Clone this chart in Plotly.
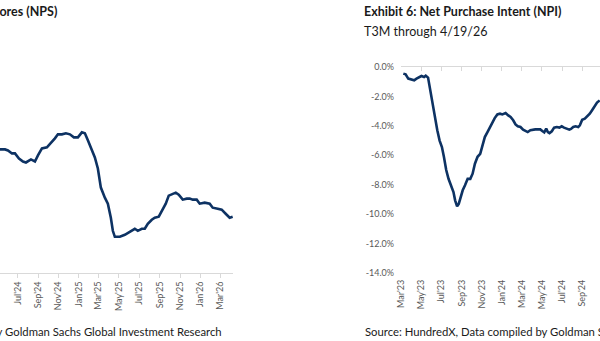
import plotly.graph_objects as go

# ---------------- Data ----------------
# Left chart (Net Promoter Score, axis labels cut off in the reference)
nps_dates = [
    "2024-05-09", "2024-05-24", "2024-06-02", "2024-06-14", "2024-06-23", "2024-07-05",
    "2024-07-17", "2024-07-26", "2024-08-10", "2024-08-22", "2024-08-31", "2024-09-12",
    "2024-09-27", "2024-10-09", "2024-10-21", "2024-10-30", "2024-11-11", "2024-11-23",
    "2024-12-05", "2024-12-17", "2024-12-29", "2025-01-10", "2025-01-19", "2025-01-28",
    "2025-02-09", "2025-02-18", "2025-02-27", "2025-03-08", "2025-03-20", "2025-03-29",
    "2025-04-07", "2025-04-13", "2025-04-19", "2025-05-04", "2025-05-19", "2025-05-28",
    "2025-06-09", "2025-06-18", "2025-06-27", "2025-07-09", "2025-07-18", "2025-07-27",
    "2025-08-08", "2025-08-17", "2025-08-29", "2025-09-07", "2025-09-19", "2025-09-28",
    "2025-10-07", "2025-10-19", "2025-10-28", "2025-11-09", "2025-11-21", "2025-11-30",
    "2025-12-09", "2025-12-21", "2025-12-30", "2026-01-14", "2026-01-29", "2026-02-07",
    "2026-02-22", "2026-03-06", "2026-03-18", "2026-03-30", "2026-04-08",
]
nps_values = [
    32.4, 32.4, 32.3, 32.0, 32.0, 31.5,
    31.2, 31.1, 31.4, 31.2, 31.8, 32.5,
    32.6, 33.0, 33.5, 33.9, 33.9, 34.0,
    33.9, 33.6, 33.6, 34.1, 34.0, 33.3,
    32.3, 31.6, 30.5, 28.6, 27.6, 27.0,
    25.6, 24.3, 23.7, 23.7, 23.9, 24.1,
    24.3, 24.5, 24.3, 24.5, 24.5, 25.0,
    25.4, 25.6, 25.7, 26.3, 27.0, 27.8,
    27.9, 28.1, 27.9, 27.4, 27.5, 27.5,
    27.4, 27.4, 27.0, 27.1, 27.0, 26.6,
    26.5, 26.4, 26.0, 25.6, 25.7,
]

# Right chart: Net Purchase Intent (%), T3M
npi_dates = [
    "2023-03-08", "2023-03-15", "2023-03-23", "2023-04-02", "2023-04-10", "2023-04-17",
    "2023-04-24", "2023-05-02", "2023-05-10", "2023-05-15", "2023-05-22", "2023-05-27",
    "2023-06-01", "2023-06-06", "2023-06-11", "2023-06-19", "2023-06-26", "2023-07-03",
    "2023-07-09", "2023-07-16", "2023-07-23", "2023-07-31", "2023-08-07", "2023-08-12",
    "2023-08-18", "2023-08-23", "2023-08-28", "2023-09-04", "2023-09-11", "2023-09-19",
    "2023-09-27", "2023-10-04", "2023-10-11", "2023-10-19", "2023-10-27", "2023-11-03",
    "2023-11-10", "2023-11-18", "2023-11-26", "2023-12-03", "2023-12-10", "2023-12-18",
    "2023-12-26", "2024-01-02", "2024-01-12", "2024-01-20", "2024-01-27", "2024-02-04",
    "2024-02-11", "2024-02-18", "2024-02-26", "2024-03-05", "2024-03-12", "2024-03-19",
    "2024-03-27", "2024-04-03", "2024-04-11", "2024-04-18", "2024-04-26", "2024-05-03",
    "2024-05-08", "2024-05-14", "2024-05-19", "2024-05-24", "2024-05-31", "2024-06-07",
    "2024-06-15", "2024-06-23", "2024-06-30", "2024-07-07", "2024-07-15", "2024-07-23",
    "2024-07-28", "2024-08-04", "2024-08-11", "2024-08-19", "2024-08-24", "2024-08-31",
    "2024-09-08", "2024-09-15", "2024-09-23", "2024-10-01", "2024-10-08", "2024-10-15",
    "2024-10-23",
]
npi_values = [
    -0.45, -0.50, -0.79, -0.84, -0.90, -0.79,
    -0.68, -0.61, -0.68, -0.59, -0.72, -1.36,
    -2.04, -2.60, -3.40, -4.30, -5.00, -5.44,
    -6.10, -7.00, -7.60, -8.04, -8.50, -9.06,
    -9.47, -9.30, -8.84, -8.38, -8.04, -7.60,
    -7.60, -7.25, -6.57, -6.10, -5.90, -5.32,
    -4.76, -4.42, -4.08, -3.74, -3.47, -3.22,
    -3.17, -3.22, -3.13, -3.29, -3.40, -3.62,
    -3.90, -4.03, -4.08, -4.26, -4.37, -4.42,
    -4.30, -4.26, -4.24, -4.24, -4.24, -4.37,
    -4.44, -4.19, -4.42, -4.49, -4.37, -4.12,
    -4.08, -4.12, -4.03, -4.12, -4.19, -4.26,
    -4.21, -4.08, -4.03, -4.08, -3.96, -3.58,
    -3.51, -3.35, -3.17, -2.90, -2.67, -2.42,
    -2.27,
]

npi_tickvals = [0, -2, -4, -6, -8, -10, -12, -14]
npi_ticktext = ["0.0%", "-2.0%", "-4.0%", "-6.0%", "-8.0%", "-10.0%", "-12.0%", "-14.0%"]

left_title = "Exhibit 5: Net Promoter Scores (NPS)"
right_title = "Exhibit 6: Net Purchase Intent (NPI)"
right_subtitle = "T3M through 4/19/26"
left_source = "Source: HundredX, Data compiled by Goldman Sachs Global Investment Research"
right_source = "Source: HundredX, Data compiled by Goldman Sachs Global Investment Research"

# ---------------- Figure ----------------
W, H = 600, 341
LINE = "#0d3263"
AXIS = "#d9d9d9"
FONT = "Lato, sans-serif"
TICKFONT = dict(family=FONT, size=9, color="#595959")

def px_x(p):
    return p / W

def px_y(p):
    return 1 - p / H

fig = go.Figure()
fig.add_trace(go.Scatter(x=nps_dates, y=nps_values, mode="lines",
                         line=dict(color=LINE, width=2.6), xaxis="x", yaxis="y",
                         showlegend=False, hoverinfo="skip"))
fig.add_trace(go.Scatter(x=npi_dates, y=npi_values, mode="lines",
                         line=dict(color=LINE, width=2.6), xaxis="x2", yaxis="y2",
                         showlegend=False, hoverinfo="skip"))
# invisible trace to carry the top (zero-line) axis of the right chart
fig.add_trace(go.Scatter(x=npi_dates, y=npi_values, mode="lines",
                         line=dict(color="rgba(0,0,0,0)", width=0), xaxis="x3", yaxis="y2",
                         showlegend=False, hoverinfo="skip"))

ydom = [px_y(273), px_y(67)]

fig.update_layout(
    width=W, height=H,
    margin=dict(l=0, r=0, t=0, b=0, autoexpand=False),
    paper_bgcolor="white", plot_bgcolor="white",
    font=dict(family=FONT),
    xaxis=dict(domain=[0, px_x(233)], range=["2024-05-09", "2026-04-09"],
               type="date", tick0="2024-01-01", dtick="M2", tickformat="%b'%y",
               tickangle=-90, tickfont=TICKFONT, showline=True, linecolor=AXIS,
               linewidth=1, ticks="outside", ticklen=4, tickcolor=AXIS,
               showgrid=False, zeroline=False, anchor="y", fixedrange=True,
               automargin=False),
    yaxis=dict(domain=ydom, range=[20.1, 40.6], visible=False, anchor="x",
               fixedrange=True, automargin=False),
    xaxis2=dict(domain=[px_x(401), 1], range=["2023-03-01", "2024-10-24"],
                type="date", tick0="2023-03-01", dtick="M2", tickformat="%b'%y",
                tickangle=-90, tickfont=TICKFONT, showline=False, ticks="",
                showgrid=False, zeroline=False, anchor="y2", fixedrange=True,
                automargin=False, ticklabelstandoff=4),
    xaxis3=dict(domain=[px_x(401), 1], range=["2023-03-01", "2024-10-24"],
                type="date", tick0="2023-03-01", dtick="M2", side="top",
                overlaying="x2", showticklabels=False, showline=True,
                linecolor=AXIS, linewidth=1, ticks="inside", ticklen=4,
                tickcolor=AXIS, showgrid=False, zeroline=False, anchor="y2",
                fixedrange=True, automargin=False),
    yaxis2=dict(domain=ydom, range=[-14, 0], tickvals=npi_tickvals,
                ticktext=npi_ticktext, tickfont=TICKFONT, showline=False,
                ticks="", showgrid=False, zeroline=False, anchor="x2",
                ticklabelstandoff=6, fixedrange=True, automargin=False),
)

ann = []
ann.append(dict(text="<b>" + left_title + "</b>", x=px_x(59), y=px_y(12),
                xanchor="right", yanchor="middle", font_size=12.5))
ann.append(dict(text="<b>" + right_title + "</b>", x=px_x(362), y=px_y(12),
                xanchor="left", yanchor="middle", font_size=12.5))
ann.append(dict(text=right_subtitle, x=px_x(362), y=px_y(31),
                xanchor="left", yanchor="middle", font_size=12.5))
ann.append(dict(text=left_source, x=px_x(224), y=px_y(331),
                xanchor="right", yanchor="middle", font_size=11.3))
ann.append(dict(text=right_source, x=px_x(363), y=px_y(331),
                xanchor="left", yanchor="middle", font_size=11.3))
for a in ann:
    a.update(xref="paper", yref="paper", showarrow=False)
    fs = a.pop("font_size")
    a["font"] = dict(family=FONT, size=fs, color="#1a1a1a")
fig.update_layout(annotations=ann)

fig.write_html("out.html")
